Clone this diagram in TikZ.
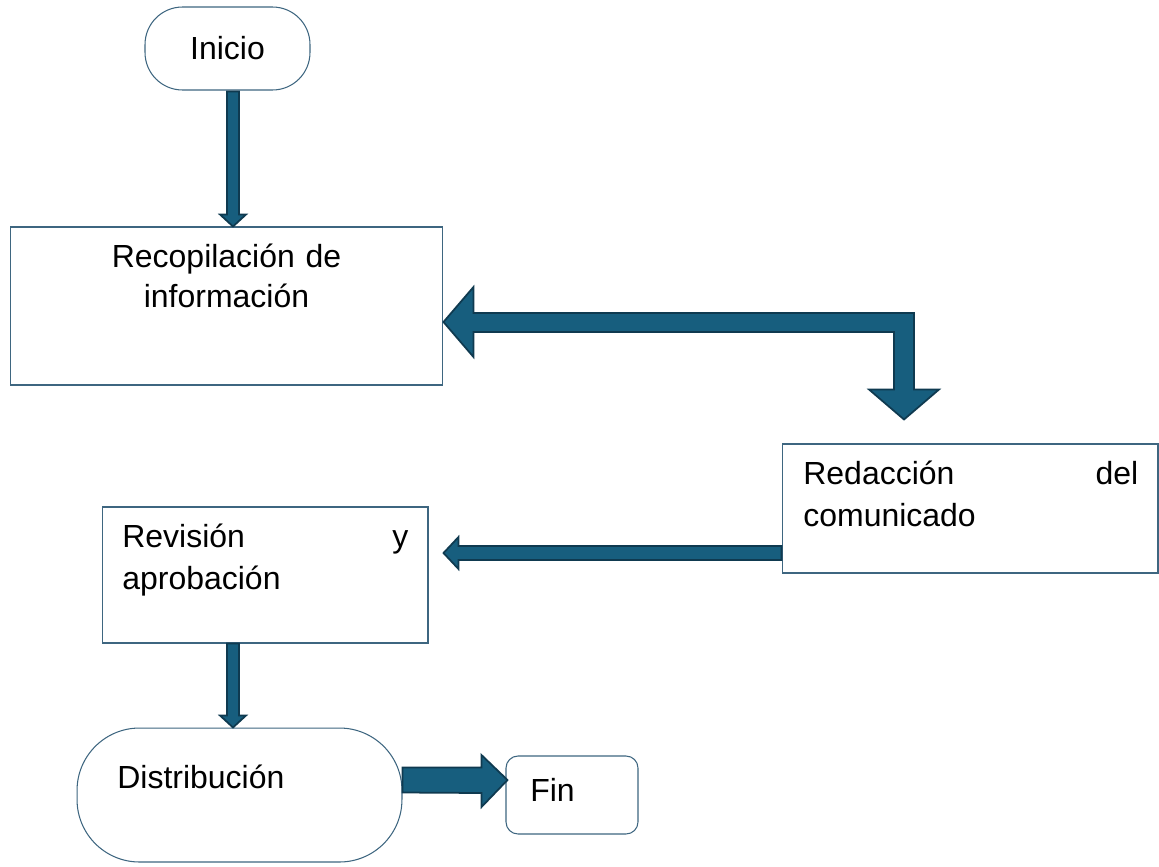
\documentclass[tikz,border=0pt]{standalone}
\usepackage{fontspec}
\setmainfont{Liberation Sans}
\usetikzlibrary{calc,positioning}
\definecolor{flowline}{RGB}{62,102,128}
\definecolor{flowfill}{RGB}{23,94,126}
\definecolor{flowdark}{RGB}{15,58,80}

\tikzset{
  flowtext/.style={font=\fontsize{18.2}{22.8}\selectfont, inner sep=0pt},
  widetext/.style={font=\fontsize{18.2}{23.8}\selectfont, inner sep=0pt},
  termbox/.style={draw=flowline, line width=0.6pt, rounded corners=#1, inner sep=0pt},
  procbox/.style={draw=flowline, line width=0.6pt, inner sep=0pt},
  blockarrow/.style={fill=flowfill, draw=flowdark, line width=1pt, line join=miter}
}

\begin{document}
\begin{tikzpicture}[x=0.02cm, y=-0.02cm]
  \useasboundingbox (0,0) rectangle (1159,866);

  % boxes
  \node[termbox=0.75cm, minimum width=3.3cm, minimum height=1.66cm, flowtext] (inicio) at (227.5,48.5) {Inicio};
  \node[procbox, minimum width=8.66cm, minimum height=3.16cm] (recop) at (226.5,306) {};
  \node[procbox, minimum width=7.52cm, minimum height=2.58cm] (redac) at (970,508.5) {};
  \node[procbox, minimum width=6.52cm, minimum height=2.72cm] (revis) at (265,575) {};
  \node[termbox=1.25cm, minimum width=6.5cm, minimum height=2.68cm] (dist) at (239.5,795) {};
  \node[termbox=0.24cm, minimum width=2.64cm, minimum height=1.56cm] (fin) at (572,795) {};

  % texts
  \node[flowtext, anchor=north, text width=8cm, align=center] (recoptxt) at (226.5,244) {Recopilación de\\información};
  \node[widetext, anchor=north west, text width=6.7cm, align=left] (redactxt) at (803,461) {Redacción\hfill del\\comunicado};
  \node[widetext, anchor=north west, text width=5.72cm, align=left] (revistxt) at (122,524) {Revisión\hfill y\\aprobación};
  \node[flowtext, anchor=west] (disttxt) at (117,777) {Distribución};
  \node[flowtext, anchor=west] (fintxt) at (530,790) {Fin};

  % inicio -> recopilacion
  \coordinate (a1s) at ($(inicio.south)+(5.5,1)$);
  \coordinate (a1e) at (a1s |- recop.north);
  \draw[blockarrow] ($(a1s)+(-6,0)$) -- ($(a1e)+(-6,-12)$) -- ++(-7,0) -- (a1e)
    -- ($(a1e)+(13,-12)$) -- ++(-7,0) -- ($(a1s)+(6,0)$) -- cycle;

  % recopilacion <-> redaccion
  \coordinate (a2l) at ($(recop.east)+(0,16)$);
  \coordinate (a2r) at ($(redac.north)+(-66,-24)$);
  \draw[blockarrow] (a2l) -- ++(30,-35) -- ++(0,26) -- ($(a2r |- a2l)+(10,-9)$)
    -- ($(a2r)+(10,-30)$) -- ++(25,0) -- (a2r) -- ++(-35,-30) -- ++(25,0)
    -- ($(a2r |- a2l)+(-10,10)$) -- ($(a2l)+(30,10)$) -- ++(0,25) -- cycle;

  % redaccion -> revision
  \coordinate (a3l) at ($(revis.east)+(15,-22)$);
  \draw[blockarrow] (a3l) -- ++(15,-16) -- ++(0,9) -- ($(a3l -| redac.west)+(0,-7)$)
    -- ++(0,14) -- ($(a3l)+(15,7)$) -- ++(0,9) -- cycle;

  % revision -> distribucion
  \coordinate (a4s) at ($(revis.south)+(-32,0)$);
  \coordinate (a4e) at (a4s |- dist.north);
  \draw[blockarrow] ($(a4s)+(-6,0)$) -- ($(a4e)+(-6,-12)$) -- ++(-7,0) -- (a4e)
    -- ($(a4e)+(13,-12)$) -- ++(-7,0) -- ($(a4s)+(6,0)$) -- cycle;

  % distribucion -> fin
  \coordinate (a5s) at ($(dist.east)+(0,-15)$);
  \coordinate (a5e) at ($(a5s -| fin.west)+(2,0)$);
  \draw[blockarrow] ($(a5s)+(0,-12.5)$) -- ($(a5e)+(-26,-12.5)$) -- ++(0,-12.5) -- (a5e)
    -- ($(a5e)+(-26,27)$) -- ++(0,-14) -- ($(a5s)+(0,12.5)$) -- cycle;
\end{tikzpicture}
\end{document}
